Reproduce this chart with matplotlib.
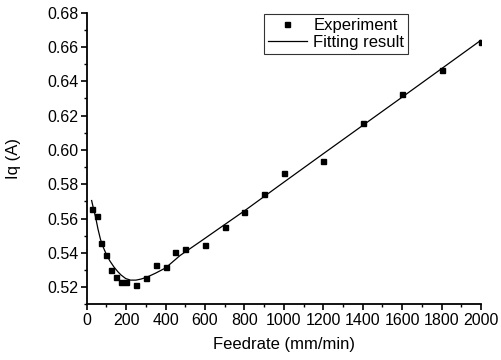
import matplotlib
matplotlib.use("Agg")
import matplotlib.pyplot as plt
from matplotlib.ticker import MultipleLocator

plt.rcParams['font.family'] = ['Liberation Sans', 'DejaVu Sans']

# measured points
feed = [25, 50, 75, 100, 125, 150, 175, 200, 250, 300, 350, 400, 450, 500,
        600, 700, 800, 900, 1000, 1200, 1400, 1600, 1800, 2000]
iq = [0.5658, 0.5613, 0.5456, 0.5390, 0.5298, 0.5260, 0.5228, 0.5228, 0.5213,
      0.5256, 0.5330, 0.5320, 0.5404, 0.5422, 0.5445, 0.5548, 0.5638, 0.5742,
      0.5868, 0.5938, 0.6157, 0.6327, 0.6467, 0.6632]

# fitted curve
fit_x = [25, 35, 45, 57, 70, 85, 100, 118, 138, 158, 175, 198, 222, 250, 275,
         305, 350, 400, 474, 574, 700, 800, 1000, 1200, 1400, 1600, 1800, 2000]
fit_y = [0.5705, 0.5655, 0.5609, 0.5540, 0.5478, 0.5430, 0.5390, 0.5352, 0.5318,
         0.5290, 0.5270, 0.5250, 0.5241, 0.5241, 0.5247, 0.5258, 0.5282, 0.5312,
         0.5385, 0.5464, 0.5565, 0.5645, 0.5812, 0.5978, 0.6143, 0.6308,
         0.6474, 0.6640]

fig = plt.figure(figsize=(5.02, 3.6), dpi=100)
ax = fig.add_axes([0.1727, 0.1547, 0.7856, 0.81])

ax.plot(feed, iq, 's', color='black', markersize=3.6, label='Experiment')
ax.plot(fit_x, fit_y, '-', color='black', linewidth=0.9, label='Fitting result')

ax.set_xlim(0, 2000)
ax.set_ylim(0.51, 0.68)
ax.xaxis.set_major_locator(MultipleLocator(200))
ax.xaxis.set_minor_locator(MultipleLocator(100))
ax.yaxis.set_major_locator(MultipleLocator(0.02))
ax.yaxis.set_minor_locator(MultipleLocator(0.01))
ax.yaxis.set_major_formatter(lambda v, p: f"{v:.2f}")

ax.spines['top'].set_visible(False)
ax.spines['right'].set_visible(False)
ax.spines['left'].set_linewidth(1.3)
ax.spines['bottom'].set_linewidth(1.3)
ax.tick_params(which='major', direction='out', length=4, width=1.2,
               labelsize=11.5, pad=2)
ax.tick_params(which='minor', direction='out', length=2.5, width=1.0)

ax.set_xlabel("Feedrate (mm/min)", fontsize=12, labelpad=7)
ax.set_ylabel("Iq (A)", fontsize=12, labelpad=19)

leg = ax.legend(loc='upper left', bbox_to_anchor=(0.45, 0.995), fontsize=12,
                frameon=True, fancybox=False, edgecolor='black',
                handlelength=2.3, handletextpad=0.4, borderpad=0.25,
                labelspacing=0.1, borderaxespad=0)
leg.get_frame().set_linewidth(0.8)

fig.savefig("out.png", dpi=100)
